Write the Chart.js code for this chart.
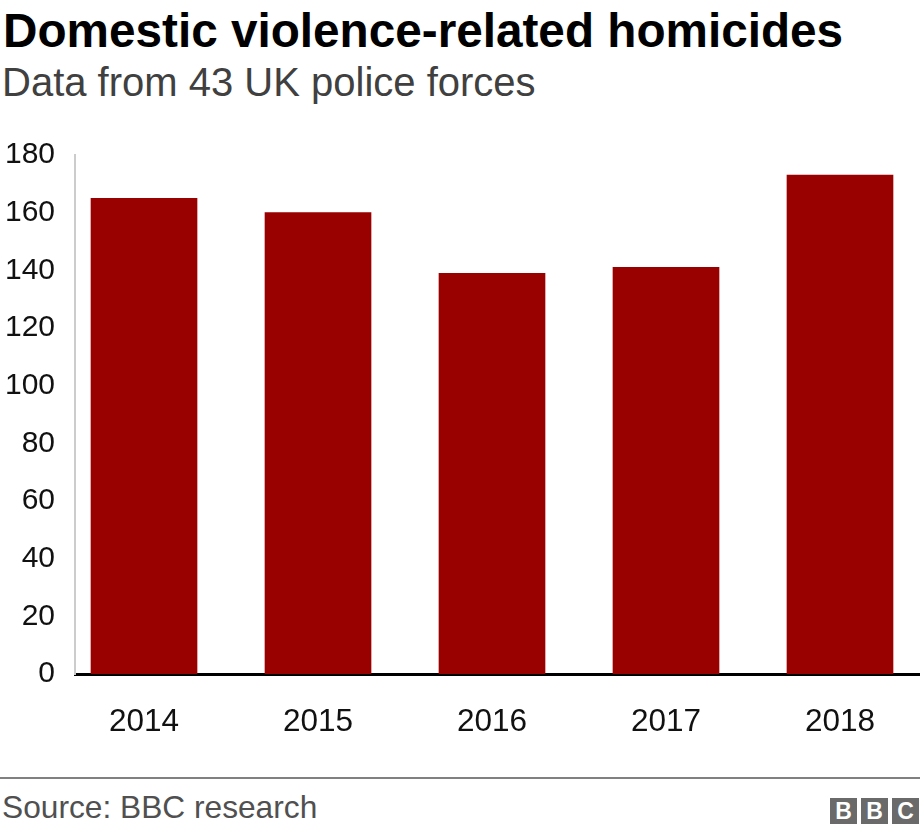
<!DOCTYPE html>
<html>
<head>
<meta charset="utf-8">
<script src="https://cdn.jsdelivr.net/npm/chart.js@4.4.1/dist/chart.umd.min.js"></script>
<style>
  html, body { margin: 0; padding: 0; background: #fff; }
  body { width: 920px; height: 834px; position: relative; overflow: hidden;
         font-family: "Liberation Sans", Arial, Helvetica, sans-serif; }
  #title { position: absolute; left: 3px; top: 7px; font-size: 47.7px; line-height: 48px;
           font-weight: bold; color: #000; white-space: nowrap; }
  #subtitle { position: absolute; left: 2px; top: 62px; font-size: 40px; line-height: 40px;
              color: #404040; white-space: nowrap; }
  #chartBox { position: absolute; left: 0; top: 117px; width: 920px; height: 640px; }
  #footerLine { position: absolute; left: 0; top: 777px; width: 920px; height: 2px; background: #808080; }
  #source { position: absolute; left: 2px; top: 791px; font-size: 31.7px; line-height: 32px;
            color: #505050; white-space: nowrap; }
  #logo { position: absolute; left: 830px; top: 798px; height: 26px; display: flex; gap: 4px; }
  #logo span { display: block; width: 27px; height: 26px; background: #6a6a6a; color: #fff;
               font-size: 23px; line-height: 26px; text-align: center; font-weight: bold; }
</style>
</head>
<body>
<div id="title">Domestic violence-related homicides</div>
<div id="subtitle">Data from 43 UK police forces</div>
<div id="chartBox"><canvas id="c"></canvas></div>
<div id="footerLine"></div>
<div id="source">Source: BBC research</div>
<div id="logo"><span>B</span><span>B</span><span>C</span></div>
<script>
const years = [2014, 2015, 2016, 2017, 2018];
const homicides = [165, 160, 139, 141, 173];
const yMin = 0, yMax = 180, yStep = 20;

const FONT = '"Liberation Sans", Arial, Helvetica, sans-serif';

new Chart(document.getElementById('c'), {
  type: 'bar',
  data: {
    datasets: [{
      data: years.map((yr, i) => ({ x: yr, y: homicides[i] })),
      backgroundColor: '#990000',
      borderWidth: 0,
      barThickness: 106
    }]
  },
  options: {
    responsive: true,
    maintainAspectRatio: false,
    animation: false,
    layout: { padding: { left: 3, right: 0, top: 10, bottom: 21 } },
    plugins: { legend: { display: false }, tooltip: { enabled: false }, title: { display: false } },
    scales: {
      x: {
        type: 'linear',
        bounds: 'data',
        offset: false,
        min: years[0] - 0.3966,
        max: years[years.length - 1] + 0.4598,
        afterBuildTicks: (s) => { s.ticks = years.map(v => ({ value: v })); },
        afterFit: (s) => { s.height = 62; },
        grid: { display: false, drawTicks: false, offset: false },
        border: { display: true, color: '#000000', width: 3 },
        ticks: {
          callback: (v) => String(v),
          font: { family: FONT, size: 31.5 },
          color: '#111111',
          padding: 29,
          maxRotation: 0,
          autoSkip: false
        }
      },
      y: {
        min: yMin,
        max: yMax,
        afterFit: (s) => { s.width = 72; },
        grid: { display: false, drawTicks: false },
        border: { display: true, color: '#cccccc', width: 2 },
        ticks: {
          stepSize: yStep,
          font: { family: FONT, size: 30 },
          color: '#111111',
          padding: 20
        }
      }
    }
  }
});
</script>
</body>
</html>
